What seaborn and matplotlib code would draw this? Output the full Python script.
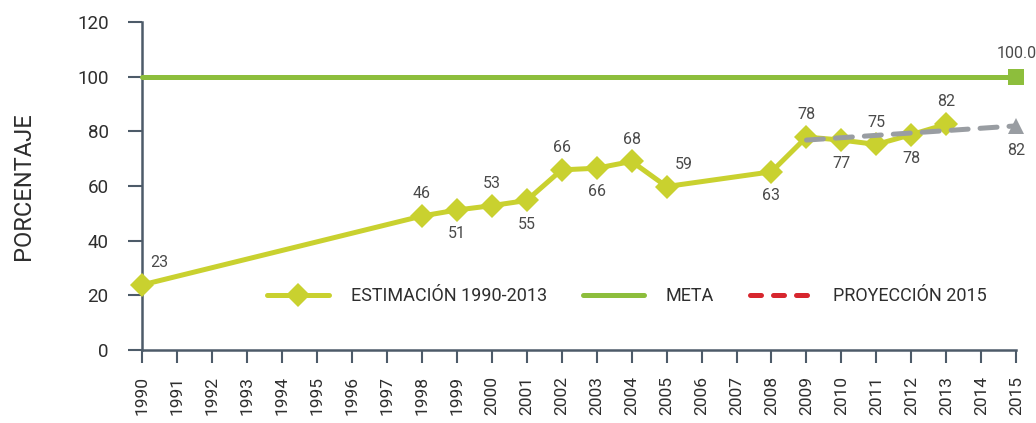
import matplotlib
matplotlib.use("Agg")
import matplotlib.pyplot as plt
from matplotlib.lines import Line2D
import seaborn as sns

# Estimación 1990-2013 (valores trazados y etiquetas impresas)
anios_est = [1990, 1998, 1999, 2000, 2001, 2002, 2003, 2004, 2005, 2008, 2009, 2010, 2011, 2012, 2013]
estimacion = [23.8, 49.0, 51.2, 52.8, 54.7, 65.9, 66.5, 69.0, 59.8, 65.2, 77.9, 76.8, 75.2, 78.8, 82.6]
etiquetas_est = ["23", "46", "51", "53", "55", "66", "66", "68", "59", "63", "78", "77", "75", "78", "82"]
posicion_est = ["up", "up", "down", "up", "down", "up", "down", "up", "up", "down", "up", "down", "up", "down", "up"]

# Meta
anios_meta = [1990, 2015]
meta = [100, 100]

# Proyección 2015
anios_proy = [2009, 2015]
proyeccion = [76.8, 82.0]

anios_ticks = list(range(1990, 2016))
y_ticks = [0, 20, 40, 60, 80, 100, 120]

c_est = "#C9D12F"
c_meta = "#8DBE3C"
c_proy = "#999DA2"
c_proy_ley = "#D7262E"
c_eje = "#4D5B69"
c_txt = "#2E2E2E"
c_etq = "#4A4A4A"

sns.set_theme(style="white")
plt.rcParams["font.family"] = ["Roboto", "DejaVu Sans"]

fig = plt.figure(figsize=(10.36, 4.23), dpi=100)
ax = fig.add_axes([0.137, 0.1726, 0.844, 0.7754])

sns.lineplot(x=anios_meta, y=meta, ax=ax, color=c_meta, linewidth=3.6,
             marker="s", markersize=11, markevery=[1], markeredgewidth=0,
             clip_on=False, zorder=3)
sns.lineplot(x=anios_est, y=estimacion, ax=ax, color=c_est, linewidth=3.6,
             marker="D", markersize=12, markeredgewidth=0, clip_on=False, zorder=4)
sns.lineplot(x=anios_proy, y=proyeccion, ax=ax, color=c_proy, linewidth=3.6,
             linestyle=(0, (3.4, 2.4)), dash_capstyle="round",
             marker="^", markersize=12, markevery=[1], markeredgewidth=0,
             clip_on=False, zorder=5)

for x, y, t, p in zip(anios_est, estimacion, etiquetas_est, posicion_est):
    dy = 16 if p == "up" else -17
    dx = 6 if x in (1990, 2005) else 0
    ax.annotate(t, (x, y), xytext=(dx, dy), textcoords="offset points",
                ha="center" if dx == 0 else "left", va="center",
                fontsize=11.5, color=c_etq)
ax.annotate("100.0", (anios_meta[-1], meta[-1]), xytext=(0, 17), textcoords="offset points",
            ha="center", va="center", fontsize=11.5, color=c_etq)
ax.annotate("82", (anios_proy[-1], proyeccion[-1]), xytext=(0, -18), textcoords="offset points",
            ha="center", va="center", fontsize=11.5, color=c_etq)

ax.set_xlim(1990, 2015)
ax.set_ylim(0, 120)
ax.set_xticks(anios_ticks)
ax.set_xticklabels([str(a) for a in anios_ticks], rotation=90, fontsize=12.5, color=c_txt)
ax.set_yticks(y_ticks)
ax.set_yticklabels([str(v) for v in y_ticks], fontsize=13.5, color=c_txt)
ax.tick_params(axis="x", bottom=True, direction="out", length=9.5, width=1.5, color=c_eje, pad=9)
ax.tick_params(axis="y", left=True, direction="out", length=10, width=1.5, color=c_eje, pad=14)
ax.set_ylabel("PORCENTAJE", fontsize=17, color=c_txt, labelpad=30)
ax.set_xlabel("")

sns.despine(ax=ax)
for s in ("left", "bottom"):
    ax.spines[s].set_color(c_eje)
    ax.spines[s].set_linewidth(1.8)
ax.spines["left"].set_bounds(0, 120)
ax.grid(False)
ax.set_facecolor("white")

handles = [
    Line2D([], [], color=c_est, linewidth=3.6, marker="D", markersize=12, markeredgewidth=0,
           solid_capstyle="round"),
    Line2D([], [], color=c_meta, linewidth=3.6, solid_capstyle="round"),
    Line2D([], [], color=c_proy_ley, linewidth=3.6, linestyle=(0, (2.2, 2.4)), dash_capstyle="round"),
]
ax.legend(handles, ["ESTIMACIÓN 1990-2013", "META", "PROYECCIÓN 2015"],
          loc="center left", bbox_to_anchor=(0.125, 0.165), ncol=3, frameon=False,
          handlelength=3.4, columnspacing=2.0, handletextpad=1.2,
          fontsize=13, labelcolor=c_txt)

fig.savefig("out.png", dpi=100)
